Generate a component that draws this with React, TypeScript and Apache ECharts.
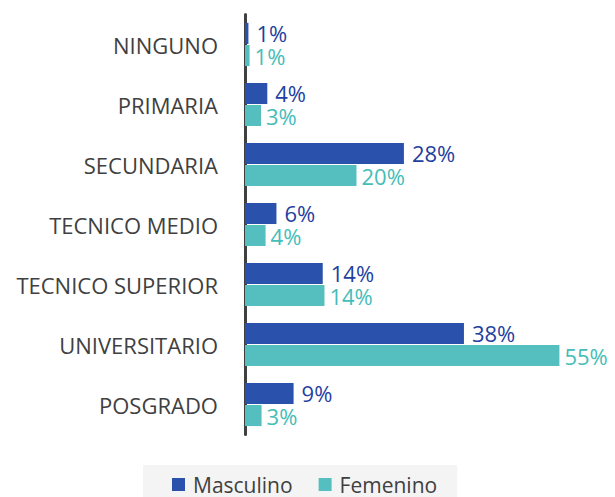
import React, { useEffect, useRef } from "react";
import * as echarts from "echarts";

const categories = [
  "NINGUNO",
  "PRIMARIA",
  "SECUNDARIA",
  "TECNICO MEDIO",
  "TECNICO SUPERIOR",
  "UNIVERSITARIO",
  "POSGRADO",
];
const seriesNames = ["Masculino", "Femenino"];
const masculino = [0.6, 3.9, 27.8, 5.5, 13.6, 38.3, 8.5];
const femenino = [0.8, 2.8, 19.5, 3.6, 13.9, 55, 2.9];

const FONT = "'Open Sans', 'Noto Sans', sans-serif";

export default function App() {
  const ref = useRef<HTMLDivElement>(null);
  useEffect(() => {
    if (!ref.current) return;
    const chart = echarts.init(ref.current, undefined, { renderer: "svg" });
    const labelFmt = (p: any) => Math.round(p.value) + "%";
    chart.setOption({
      animation: false,
      backgroundColor: "#ffffff",
      textStyle: { fontFamily: FONT },
      grid: { left: 245, top: 14.5, height: 420, right: 27 },
      legend: {
        data: seriesNames,
        left: 143,
        top: 465,
        padding: [9, 20, 2, 29],
        backgroundColor: "#f4f4f4",
        icon: "rect",
        itemWidth: 13,
        itemHeight: 13,
        itemGap: 26,
        textStyle: {
          fontFamily: FONT,
          fontSize: 21,
          lineHeight: 21,
          color: "#404040",
          padding: [0, 0, 0, 3],
        },
      },
      xAxis: {
        type: "value",
        min: 0,
        max: 60,
        show: false,
        splitLine: { show: false },
      },
      yAxis: {
        type: "category",
        data: categories,
        inverse: true,
        axisLine: { show: true, lineStyle: { color: "#404040", width: 3 } },
        axisTick: { show: false },
        axisLabel: {
          fontFamily: FONT,
          fontSize: 22,
          color: "#404040",
          margin: 27,
        },
      },
      series: [
        {
          name: seriesNames[0],
          type: "bar",
          data: masculino,
          barCategoryGap: "28%",
          barGap: "5%",
          itemStyle: { color: "#2A52AD" },
          label: {
            show: true,
            position: "right",
            distance: 8,
            formatter: labelFmt,
            fontFamily: FONT,
            fontSize: 22,
            lineHeight: 20,
            color: "#1F3FA0",
          },
        },
        {
          name: seriesNames[1],
          type: "bar",
          data: femenino,
          barCategoryGap: "28%",
          barGap: "5%",
          itemStyle: { color: "#55BFBF" },
          label: {
            show: true,
            position: "right",
            distance: 5,
            formatter: labelFmt,
            fontFamily: FONT,
            fontSize: 22,
            lineHeight: 20,
            color: "#45BDB8",
          },
        },
      ],
    });
    return () => chart.dispose();
  }, []);
  return <div ref={ref} style={{ width: 615, height: 497, position: "absolute", left: 0, top: 0 }} />;
}
